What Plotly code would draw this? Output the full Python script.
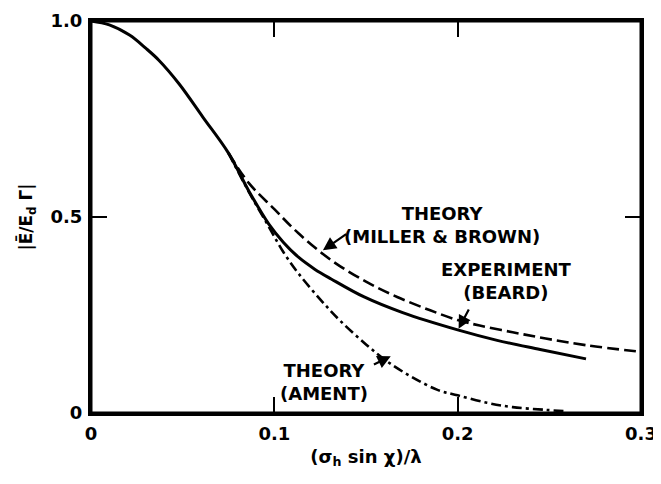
import plotly.graph_objects as go

# Experiment (Beard) - solid
x_beard = [0, 0.01, 0.021, 0.03, 0.037, 0.048, 0.061, 0.075, 0.086, 0.097, 0.105, 0.113, 0.122, 0.131, 0.149, 0.17, 0.2, 0.221, 0.245, 0.27]
y_beard = [1.0, 0.99, 0.964, 0.93, 0.90, 0.84, 0.755, 0.663, 0.567, 0.482, 0.435, 0.398, 0.367, 0.342, 0.296, 0.256, 0.212, 0.186, 0.162, 0.138]

# Theory (Miller & Brown) - dashed
x_mb = [0.075, 0.086, 0.1, 0.113, 0.131, 0.15, 0.167, 0.185, 0.2, 0.212, 0.23, 0.248, 0.27, 0.3]
y_mb = [0.663, 0.587, 0.52, 0.459, 0.39, 0.335, 0.296, 0.262, 0.237, 0.223, 0.206, 0.19, 0.173, 0.156]

# Theory (Ament) - dash-dot
x_am = [0.075, 0.086, 0.097, 0.105, 0.113, 0.125, 0.136, 0.15, 0.162, 0.175, 0.189, 0.2, 0.216, 0.23, 0.248, 0.26]
y_am = [0.663, 0.565, 0.475, 0.41, 0.357, 0.29, 0.235, 0.175, 0.13, 0.092, 0.059, 0.045, 0.026, 0.015, 0.008, 0.004]

x_ticks = [0, 0.1, 0.2, 0.3]
x_ticklabels = ["0", "0.1", "0.2", "0.3"]
y_ticks = [0, 0.5, 1.0]
y_ticklabels = ["0", "0.5", "1.0"]

FONT = "DejaVu Sans"
fig = go.Figure()
fig.add_trace(go.Scatter(x=x_mb, y=y_mb, mode="lines", line=dict(color="black", width=2.6, dash="12px,5px"), line_shape="spline"))
fig.add_trace(go.Scatter(x=x_am, y=y_am, mode="lines", line=dict(color="black", width=2.6, dash="10px,4px,3px,4px"), line_shape="spline"))
fig.add_trace(go.Scatter(x=x_beard, y=y_beard, mode="lines", line=dict(color="black", width=3), line_shape="spline"))

tf = dict(family=FONT, size=18, color="black", weight="bold")
fig.update_xaxes(range=[0, 0.3], tickvals=x_ticks, ticktext=x_ticklabels, ticks="inside", ticklen=16, tickwidth=2,
                 tickcolor="black", showline=True, linewidth=3, linecolor="black", mirror="ticks",
                 showgrid=False, zeroline=False, tickfont=tf, ticklabelstandoff=2, ticklabeloverflow="allow",
                 automargin=False,
                 title=dict(text="(σ<sub>h</sub> sin χ)/λ", font=dict(family=FONT, size=18, color="black", weight="bold"), standoff=8))
fig.update_yaxes(range=[0, 1.0], tickvals=y_ticks, ticktext=y_ticklabels, ticks="inside", ticklen=16, tickwidth=2,
                 tickcolor="black", showline=True, linewidth=3, linecolor="black", mirror="ticks",
                 showgrid=False, zeroline=False, tickfont=tf, ticklabelstandoff=2, ticklabeloverflow="allow",
                 automargin=False,
                 title=dict(text="|Ē/E<sub>d</sub> Γ|", font=dict(family=FONT, size=17, color="black", weight="bold"), standoff=14))

af = dict(family=FONT, size=18, color="black", weight="bold")
labels = [
    ("THEORY<br>(MILLER & BROWN)", 0.1914, 0.480),
    ("EXPERIMENT<br>(BEARD)", 0.2265, 0.337),
    ("THEORY<br>(AMENT)", 0.127, 0.080),
]
for t, x, y in labels:
    fig.add_annotation(text=t, x=x, y=y, xref="x", yref="y", showarrow=False, font=af,
                       xanchor="center", yanchor="middle", align="center")

arrows = [
    ((0.140, 0.459), (0.1265, 0.415)),
    ((0.2065, 0.268), (0.2005, 0.215)),
    ((0.1535, 0.122), (0.1635, 0.145)),
]
for (tx, ty), (hx, hy) in arrows:
    fig.add_annotation(text="", x=hx, y=hy, ax=tx, ay=ty, xref="x", yref="y", axref="x", ayref="y",
                       showarrow=True, arrowhead=2, arrowsize=1.2, arrowwidth=2.2, arrowcolor="black")

# frame around the plot area
fig.add_shape(type="rect", xref="paper", yref="paper", x0=0, x1=1, y0=0, y1=1,
              line=dict(color="black", width=3), layer="above")

# page body has an 8px default margin; keep the figure small enough that no scrollbar appears
fig.update_layout(width=650, height=464, margin=dict(l=83, r=17, t=13, b=59), showlegend=False,
                  plot_bgcolor="white", paper_bgcolor="white")
fig.write_html("out.html")
